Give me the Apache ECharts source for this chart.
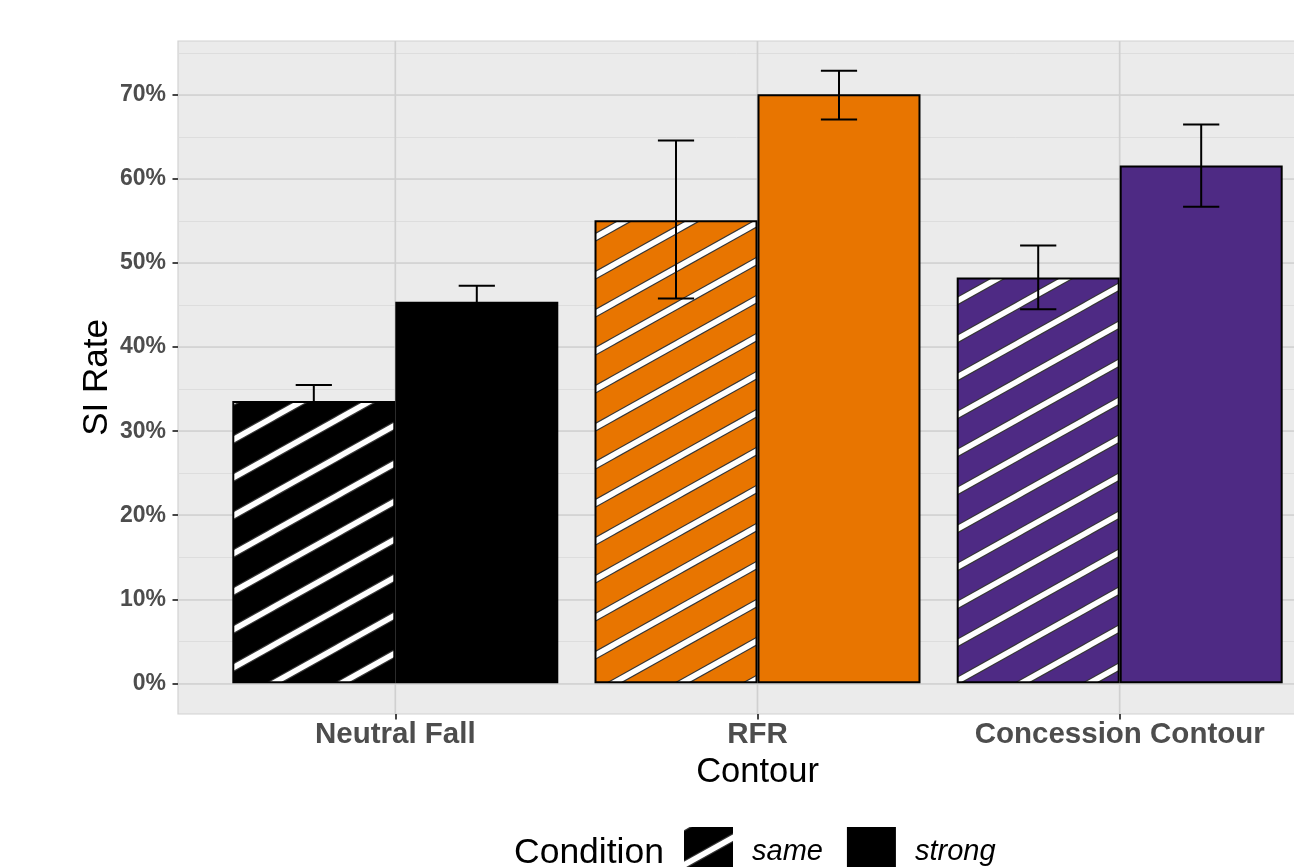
<!DOCTYPE html>
<html>
<head>
<meta charset="utf-8">
<script src="https://cdn.jsdelivr.net/npm/echarts@6/dist/echarts.min.js"></script>
<style>
  html, body { margin: 0; padding: 0; background: #ffffff; }
  #chart { width: 1294px; height: 867px; }
</style>
</head>
<body>
<div id="chart"></div>
<script>
// SI rate (%) by contour and condition, with error-bar bounds
const categories = ['Neutral Fall', 'RFR', 'Concession Contour'];
const sameRate   = [33.6, 55.1, 48.3];
const sameLow    = [31.7, 45.8, 44.5];
const sameHigh   = [35.5, 64.6, 52.1];
const strongRate = [45.4, 70.1, 61.6];
const strongLow  = [43.5, 67.1, 56.7];
const strongHigh = [47.3, 72.9, 66.5];

const contourColors = ['#000000', '#E87500', '#4E2A84'];
const FONT = '"Liberation Sans", Arial, Helvetica, sans-serif';
const TICK_GREY = '#4D4D4D';
const MAJOR = '#D0D0D0';
const MINOR = '#DDDDDD';

// Diagonal white stripe fill on a coloured base
function hatch(base) {
  const W = 68, H = 38;
  const c = document.createElement('canvas');
  c.width = W; c.height = H;
  const g = c.getContext('2d');
  g.fillStyle = base;
  g.fillRect(0, 0, W, H);
  const stripes = (color, width) => {
    g.strokeStyle = color;
    g.lineWidth = width;
    for (let k = -1; k <= 1; k++) {
      g.beginPath();
      g.moveTo(-W, H * (1 + k) + H);
      g.lineTo(2 * W, H * (1 + k) - 2 * H);
      g.stroke();
    }
  };
  stripes('#363636', 8);
  stripes('#ffffff', 5.5);
  return { image: c, repeat: 'repeat' };
}

// Error bars drawn at the dodged bar centres
function errorBars(name, low, high, side) {
  return {
    name: name,
    type: 'custom',
    xAxisIndex: 3,
    yAxisIndex: 3,
    z: 3,
    silent: true,
    data: categories.map((c, i) => [i, low[i], high[i]]),
    encode: { x: 0, y: [1, 2] },
    renderItem: function (params, api) {
      const band = api.size([1, 0])[0];
      const idx = api.value(0);
      const x = api.coord([idx, 0])[0] + side * band * 0.225;
      const yLo = api.coord([idx, api.value(1)])[1];
      const yHi = api.coord([idx, api.value(2)])[1];
      const half = band * 0.05;
      const style = { stroke: '#000000', lineWidth: 2, fill: null };
      return {
        type: 'group',
        children: [
          { type: 'line', shape: { x1: x, y1: yHi, x2: x, y2: yLo }, style: style },
          { type: 'line', shape: { x1: x - half, y1: yHi, x2: x + half, y2: yHi }, style: style },
          { type: 'line', shape: { x1: x - half, y1: yLo, x2: x + half, y2: yLo }, style: style }
        ]
      };
    }
  };
}

const panel = { left: 178, width: 1159 };

const option = {
  animation: false,
  backgroundColor: '#ffffff',
  grid: [
    // panel background
    { left: panel.left, width: panel.width, top: 41, height: 673, show: true,
      backgroundColor: '#EBEBEB', borderColor: '#D2D2D2', borderWidth: 1.2, outerBoundsMode: 'none' },
    // minor gridlines (0..75)
    { left: panel.left, width: panel.width, top: 53, height: 630.3, outerBoundsMode: 'none' },
    // major gridlines + labels (0..70)
    { left: panel.left, width: panel.width, top: 95, height: 588.3, outerBoundsMode: 'none' },
    // bars, down to the panel bottom
    { left: 214.2, width: 1086.6, top: 53, height: 661, outerBoundsMode: 'none' }
  ],
  xAxis: [
    { gridIndex: 0, type: 'value', min: 0.4, max: 3.6, show: false },
    { gridIndex: 1, type: 'value', show: false },
    { gridIndex: 2, type: 'value', show: false },
    {
      gridIndex: 3, type: 'category', data: categories,
      axisLine: { show: false, onZero: false },
      axisTick: { show: true, alignWithLabel: true, length: 5.5, lineStyle: { color: '#333333', width: 1.8 } },
      axisLabel: { interval: 0, hideOverlap: false, margin: 6, fontSize: 29.5, fontWeight: 'bold',
                   color: TICK_GREY, fontFamily: FONT },
      splitLine: { show: false },
      name: 'Contour', nameLocation: 'middle', nameGap: 34,
      nameTextStyle: { fontSize: 34.5, color: '#000000', fontFamily: FONT }
    }
  ],
  yAxis: [
    {
      gridIndex: 0, type: 'value', min: 0, max: 1,
      axisLine: { show: false }, axisTick: { show: false }, axisLabel: { show: false }, splitLine: { show: false },
      name: 'SI Rate', nameLocation: 'middle', nameGap: 63,
      nameTextStyle: { fontSize: 35, color: '#000000', fontFamily: FONT }
    },
    {
      gridIndex: 1, type: 'value', min: 0, max: 75, interval: 5,
      axisLine: { show: false }, axisTick: { show: false }, axisLabel: { show: false },
      splitLine: { show: true, lineStyle: { color: MINOR, width: 1 } }
    },
    {
      gridIndex: 2, type: 'value', min: 0, max: 70, interval: 10,
      axisLine: { show: false },
      axisTick: { show: true, length: 5.5, lineStyle: { color: '#333333', width: 1.8 } },
      axisLabel: { margin: 12, fontSize: 23, fontWeight: 'bold', color: TICK_GREY, fontFamily: FONT,
                   formatter: v => v + '%' },
      splitLine: { show: true, lineStyle: { color: MAJOR, width: 1.7 } }
    },
    // same scale as the gridlines (8.404 px per %), extended below zero to the panel edge
    { gridIndex: 3, type: 'value', min: -3.653, max: 75, show: false }
  ],
  legend: {
    data: [{ name: 'same', icon: 'rect' }, { name: 'strong', icon: 'rect' }],
    left: 684, top: 827, padding: 0,
    itemWidth: 49, itemHeight: 49, itemGap: 24,
    selectedMode: false,
    itemStyle: { borderWidth: 0 },
    textStyle: { fontSize: 29, fontStyle: 'italic', color: '#000000', fontFamily: FONT, padding: [0, 0, 0, 14] }
  },
  graphic: [
    { type: 'text', left: 514, top: 835, silent: true,
      style: { text: 'Condition', font: '35.5px ' + FONT, fill: '#000000' } }
  ],
  series: [
    // vertical major gridlines at the category positions
    {
      type: 'custom', xAxisIndex: 0, yAxisIndex: 0, z: 1, silent: true,
      data: categories.map((c, i) => [i + 1, 0]),
      encode: { x: 0, y: 1 },
      renderItem: function (params, api) {
        const x = api.coord([api.value(0), 0])[0];
        const cs = params.coordSys;
        return { type: 'line', shape: { x1: x, y1: cs.y, x2: x, y2: cs.y + cs.height },
                 style: { stroke: MAJOR, lineWidth: 1.7 } };
      }
    },
    {
      name: 'same', type: 'bar', xAxisIndex: 3, yAxisIndex: 3, z: 2,
      barWidth: '45%', barGap: '0%',
      itemStyle: { color: hatch('#000000'), borderColor: '#000000', borderWidth: 2 },
      data: sameRate.map((v, i) => ({ value: v, itemStyle: { color: hatch(contourColors[i]) } }))
    },
    {
      name: 'strong', type: 'bar', xAxisIndex: 3, yAxisIndex: 3, z: 2,
      barWidth: '45%', barGap: '0%',
      itemStyle: { color: '#000000', borderColor: '#000000', borderWidth: 2 },
      data: strongRate.map((v, i) => ({ value: v, itemStyle: { color: contourColors[i] } }))
    },
    errorBars('same-error', sameLow, sameHigh, -1),
    errorBars('strong-error', strongLow, strongHigh, 1)
  ]
};

const chart = echarts.init(document.getElementById('chart'), null, { renderer: 'canvas' });
chart.setOption(option);
</script>
</body>
</html>
